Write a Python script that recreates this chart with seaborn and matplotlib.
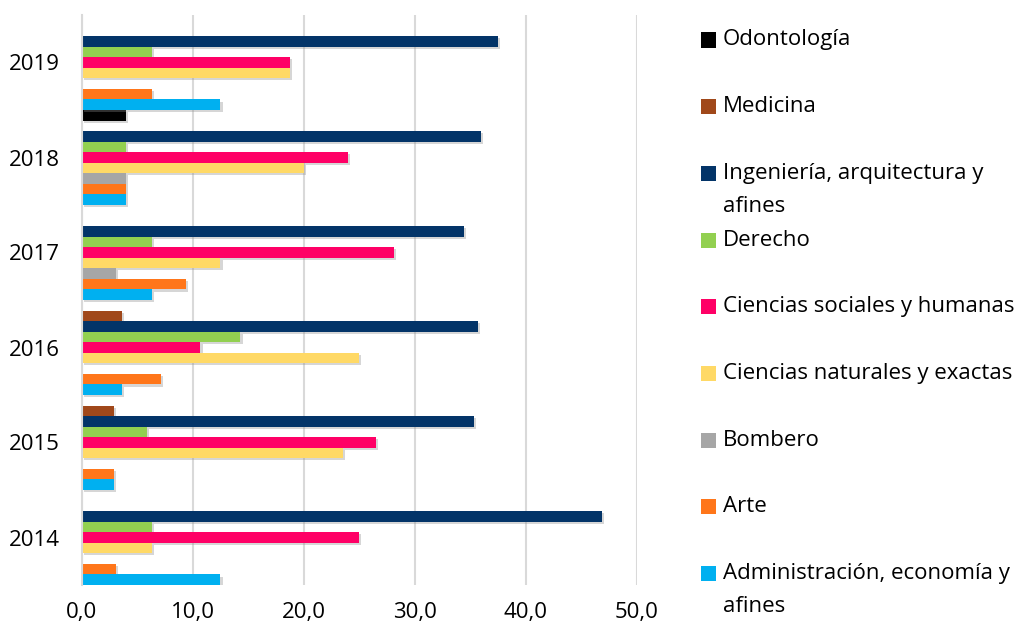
import numpy as np
import pandas as pd
import matplotlib
matplotlib.use("Agg")
import matplotlib.pyplot as plt
import matplotlib.patheffects as pe
from matplotlib.patches import Rectangle
from matplotlib.ticker import FuncFormatter
import seaborn as sns

# years, top to bottom as in the chart
YEARS = ["2019", "2018", "2017", "2016", "2015", "2014"]

# series, in legend order (top of each group first)
AREAS = ["Odontología", "Medicina", "Ingeniería, arquitectura y afines",
         "Derecho", "Ciencias sociales y humanas",
         "Ciencias naturales y exactas", "Bombero", "Arte",
         "Administración, economía y afines"]

LEGEND_LABELS = ["Odontología", "Medicina", "Ingeniería, arquitectura y\nafines",
                 "Derecho", "Ciencias sociales y humanas",
                 "Ciencias naturales y exactas", "Bombero", "Arte",
                 "Administración, economía y\nafines"]

# percentages per year (same order as YEARS), None = no bar
odontologia  = [None, 4.0, None, None, None, None]
medicina     = [None, None, None, 3.6, 2.9, None]
ingenieria   = [37.5, 36.0, 34.4, 35.7, 35.3, 46.9]
derecho      = [6.3, 4.0, 6.3, 14.3, 5.9, 6.3]
sociales     = [18.8, 24.0, 28.1, 10.7, 26.5, 25.0]
naturales    = [18.8, 20.0, 12.5, 25.0, 23.5, 6.3]
bombero      = [None, 4.0, 3.1, None, None, None]
arte         = [6.3, 4.0, 9.4, 7.1, 2.9, 3.1]
administracion = [12.5, 4.0, 6.3, 3.6, 2.9, 12.5]

SERIES = [odontologia, medicina, ingenieria, derecho, sociales,
          naturales, bombero, arte, administracion]

COLOURS = ["#000000", "#A0481A", "#033468", "#92D050", "#FF0066",
           "#FFD966", "#A6A6A6", "#FF761A", "#00B0F0"]

rows = []
for area, vals in zip(AREAS, SERIES):
    for yr, v in zip(YEARS, vals):
        if v is not None:
            rows.append({"year": yr, "area": area, "pct": v})
df = pd.DataFrame(rows)

sns.set_theme(style="white")
plt.rcParams["font.family"] = ["Open Sans", "DejaVu Sans"]

W, H = 1026, 626
fig = plt.figure(figsize=(W / 100, H / 100), dpi=100)
ax = fig.add_axes([81.7 / W, 1 - 585 / H, (636.7 - 81.7) / W, (585 - 15) / H])

sns.barplot(data=df, x="pct", y="year", hue="area", order=YEARS,
            hue_order=AREAS, palette=COLOURS, saturation=1, orient="h",
            width=1.0, dodge=True, linewidth=0, errorbar=None, legend=False,
            ax=ax)

shadow = [pe.SimplePatchShadow(offset=(1.5, -1.5), shadow_rgbFace="#8c8c8c",
                               alpha=0.35), pe.Normal()]
for p in ax.patches:
    p.set_path_effects(shadow)

ax.set_xlim(0, 50)
ax.set_xticks(np.arange(0, 51, 10))
ax.xaxis.set_major_formatter(FuncFormatter(lambda v, _: f"{v:.1f}".replace(".", ",")))
ax.grid(axis="x", color="#D9D9D9", linewidth=1.5)
ax.set_axisbelow(True)
for s in ["top", "right", "bottom"]:
    ax.spines[s].set_visible(False)
ax.spines["left"].set_color("#D9D9D9")
ax.spines["left"].set_linewidth(1.5)
ax.tick_params(axis="both", length=0, labelsize=16, colors="black")
ax.tick_params(axis="y", pad=16)
ax.tick_params(axis="x", pad=12)
ax.set_xlabel("")
ax.set_ylabel("")

# legend on the right, fixed pitch like the original
pitch = 66.7
for i, (lab, col) in enumerate(zip(LEGEND_LABELS, COLOURS)):
    yc = 40 + i * pitch
    fig.patches.append(Rectangle((701 / W, 1 - (yc + 7.5) / H), 15 / W, 15 / H,
                                 transform=fig.transFigure, facecolor=col,
                                 edgecolor="none"))
    for j, line in enumerate(lab.split("\n")):
        fig.text(723 / W, 1 - (yc + j * 33) / H, line, fontsize=16,
                 va="center", ha="left", color="black")

fig.savefig("out.png", dpi=100)
